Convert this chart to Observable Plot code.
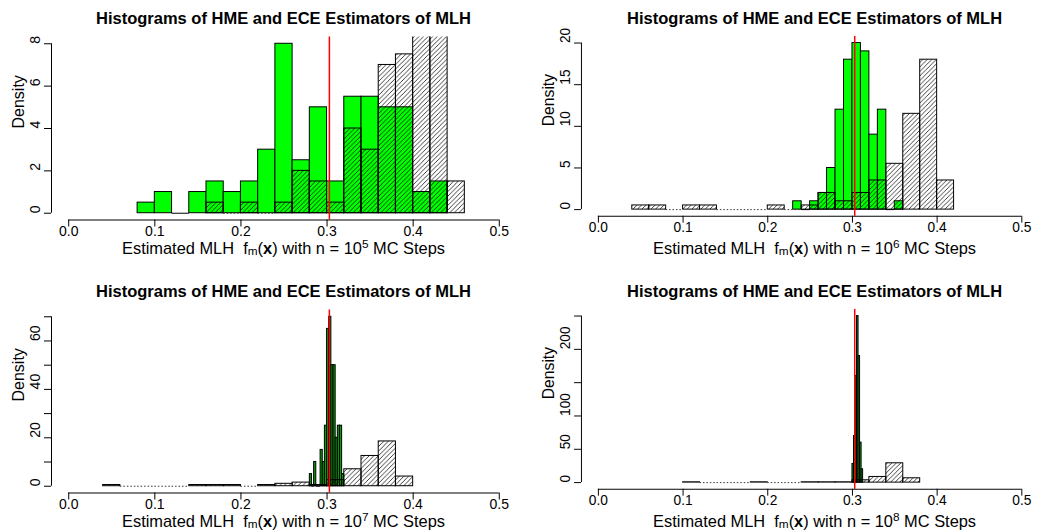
<!DOCTYPE html>
<html><head><meta charset="utf-8">
<script src="https://cdn.jsdelivr.net/npm/d3@7"></script>
<script src="https://cdn.jsdelivr.net/npm/@observablehq/plot@0.6"></script>
<style>
body{margin:0;background:#fff;overflow:hidden;font-family:"Liberation Sans",Arial,sans-serif;}
#wrap{position:relative;width:1042px;height:531px;overflow:hidden;background:#fff;}
.panel{position:absolute;}
.title{position:absolute;font-weight:bold;font-size:16.5px;white-space:nowrap;transform:translate(-50%,-50%);line-height:1;}
.xlab{position:absolute;font-size:16.4px;white-space:nowrap;transform:translate(-50%,-50%);line-height:1;}
.sub{font-size:0.72em;position:relative;top:0.15em;line-height:0;}
.sup{font-size:0.72em;position:relative;top:-0.45em;line-height:0;}
</style></head>
<body>
<svg width="0" height="0" style="position:absolute"><defs>
<pattern id="hatch" patternUnits="userSpaceOnUse" width="4.6" height="4.6">
<path d="M-1,1 l2,-2 M0,4.6 l4.6,-4.6 M3.6,5.6 l2,-2" stroke="#000" stroke-width="0.75"/>
</pattern></defs></svg>
<div id="wrap"></div>
<script>
// ---------- data ----------
const titleText = "Histograms of HME and ECE Estimators of MLH";
const xTicks = [0, 0.1, 0.2, 0.3, 0.4, 0.5];
const trueMLH = 0.3027;
const mcExponents = [5, 6, 7, 8];

// panel 1: n = 10^5
const ece1Start = 0.08, ece1Width = 0.02;
const ece1 = [0.5, 1, 0, 1, 1.5, 1, 1.5, 3, 8, 2.5, 5, 1.5, 5.5, 5.5, 5, 5, 1, 1.5];
const hme1Start = 0.16, hme1Width = 0.02;
const hme1 = [0.5, 0, 0.5, 0, 0.5, 2, 1.5, 0.5, 4, 3, 7, 7.5, 10, 11.5, 1.5];
const yTicks1 = [0, 2, 4, 6, 8];
const yLabels1 = [0, 2, 4, 6, 8];

// panel 2: n = 10^6
const ece2Start = 0.23, ece2Width = 0.01;
const ece2 = [1, 0, 1, 2, 5, 12, 18, 20, 19, 9, 12, 0, 1];
const hme2Start = 0.04, hme2Width = 0.02;
const hme2 = [0.5, 0.5, 0, 0.5, 0.5, 0, 0, 0, 0.5, 0, 0.5, 2, 1, 2, 3.5, 5.5, 11.5, 18, 3.5];
const yTicks2 = [0, 5, 10, 15, 20];
const yLabels2 = [0, 5, 10, 15, 20];

// panel 3: n = 10^7
const ece3Start = 0.28, ece3Width = 0.0025;
const ece3 = [5, 0, 10, 0, 0, 15, 10, 25, 65, 70, 50, 50, 20, 25, 25, 5];
const hme3Start = 0.04, hme3Width = 0.02;
const hme3 = [0.5, 0, 0, 0, 0, 0.5, 0.5, 0.5, 0, 0.5, 1, 1.5, 0.5, 2.5, 7, 12.5, 18.5, 4];
const yTicks3 = [0, 10, 20, 30, 40, 50, 60, 70];
const yLabels3 = [0, 20, 40, 60];

// panel 4: n = 10^8
const ece4Start = 0.300, ece4Width = 0.0018;
const ece4 = [28, 70, 160, 250, 190, 60, 20];
const hme4Start = 0.10, hme4Width = 0.02;
const hme4 = [0.5, 0, 0, 0, 0.5, 0, 0, 0.5, 0.5, 0.5, 3.5, 8.5, 29, 6.5];
const yTicks4 = [0, 50, 100, 150, 200, 250];
const yLabels4 = [0, 50, 100, 200];

// ---------- helpers ----------
function toBins(start, width, values) {
  return values.map((v, i) => ({
    x1: +(start + i * width).toFixed(5),
    x2: +(start + (i + 1) * width).toFixed(5),
    d: v
  }));
}

const wrap = document.getElementById("wrap");
const FONT = "'Liberation Sans', Arial, sans-serif";

function panel({col, row, ece, hme, yTicks, yLabels, exp, narrow}) {
  const top = row * 273;
  const left = col * 521;
  const W = col === 0 ? 521 : 530;
  const mL = col === 0 ? 51 : 61;
  const mR = col === 0 ? 5 : 3.8;
  const ymax = yTicks[yTicks.length - 1];
  const ydom = [-0.04 * ymax, 1.04 * ymax];
  const eceNZ = ece.filter(b => b.d > 0), eceZ = ece.filter(b => b.d === 0);
  const hmeNZ = hme.filter(b => b.d > 0), hmeZ = hme.filter(b => b.d === 0);
  const chart = Plot.plot({
    width: W, height: 265,
    marginLeft: mL, marginRight: mR, marginTop: 36.5, marginBottom: 45.5,
    x: {domain: [-0.02, 0.52], label: null},
    y: {domain: ydom, label: null},
    style: {fontFamily: FONT, fontSize: "14px", color: "#000", background: "transparent", overflow: "visible"},
    marks: [
      Plot.rect(eceNZ, {x1: "x1", x2: "x2", y1: () => 0, y2: "d", fill: narrow ? "#0a9a0a" : "#00ff00", stroke: "#000", strokeWidth: 1, clip: true}),
      Plot.ruleY(eceZ, {x1: "x1", x2: "x2", y: () => 0, stroke: "#000", strokeWidth: 1}),
      Plot.rect(hmeNZ, {x1: "x1", x2: "x2", y1: () => 0, y2: "d", fill: "url(#hatch)", stroke: "#000", strokeWidth: 1, clip: true}),
      Plot.ruleY(hmeZ, {x1: "x1", x2: "x2", y: () => 0, stroke: "#333", strokeWidth: 1, strokeDasharray: "1.5,2"}),
      Plot.ruleX([trueMLH], {stroke: "#ff0000", strokeWidth: 1.5}),
      // x axis
      Plot.ruleY([ydom[0]], {x1: xTicks[0], x2: xTicks[xTicks.length - 1], stroke: "#000"}),
      Plot.axisX(xTicks, {tickSize: 7, tickPadding: -1, tickFormat: d3.format(".1f"), label: null, fontSize: 14}),
      // y axis
      Plot.ruleX([-0.02], {y1: yTicks[0], y2: ymax, stroke: "#000"}),
      Plot.axisY(yTicks, {tickSize: 7, tickFormat: () => "", label: null}),
      Plot.text(yLabels, {y: d => d, frameAnchor: "left", dx: -16, rotate: -90, text: d => String(d), fontSize: 14}),
      Plot.text(["Density"], {frameAnchor: "left", dx: -33, rotate: -90, text: d => d, fontSize: 16})
    ]
  });
  const box = document.createElement("div");
  box.className = "panel";
  box.style.left = left + "px";
  box.style.top = top + "px";
  box.appendChild(chart);
  wrap.appendChild(box);

  const cx = left + (mL + (W - mR)) / 2;
  const t = document.createElement("div");
  t.className = "title";
  t.textContent = titleText;
  t.style.left = cx + "px";
  t.style.top = (top + 18.3) + "px";
  wrap.appendChild(t);

  const xl = document.createElement("div");
  xl.className = "xlab";
  xl.innerHTML = `Estimated MLH&nbsp; f<span class="sub">m</span>(<b>x</b>) with n = 10<span class="sup">${exp}</span> MC Steps`;
  xl.style.left = cx + "px";
  xl.style.top = (top + 247.5) + "px";
  wrap.appendChild(xl);
}

panel({col: 0, row: 0, ece: toBins(ece1Start, ece1Width, ece1), hme: toBins(hme1Start, hme1Width, hme1), yTicks: yTicks1, yLabels: yLabels1, exp: mcExponents[0]});
panel({col: 1, row: 0, ece: toBins(ece2Start, ece2Width, ece2), hme: toBins(hme2Start, hme2Width, hme2), yTicks: yTicks2, yLabels: yLabels2, exp: mcExponents[1]});
panel({col: 0, row: 1, ece: toBins(ece3Start, ece3Width, ece3), hme: toBins(hme3Start, hme3Width, hme3), yTicks: yTicks3, yLabels: yLabels3, exp: mcExponents[2], narrow: true});
panel({col: 1, row: 1, ece: toBins(ece4Start, ece4Width, ece4), hme: toBins(hme4Start, hme4Width, hme4), yTicks: yTicks4, yLabels: yLabels4, exp: mcExponents[3], narrow: true});
</script>
</body></html>
